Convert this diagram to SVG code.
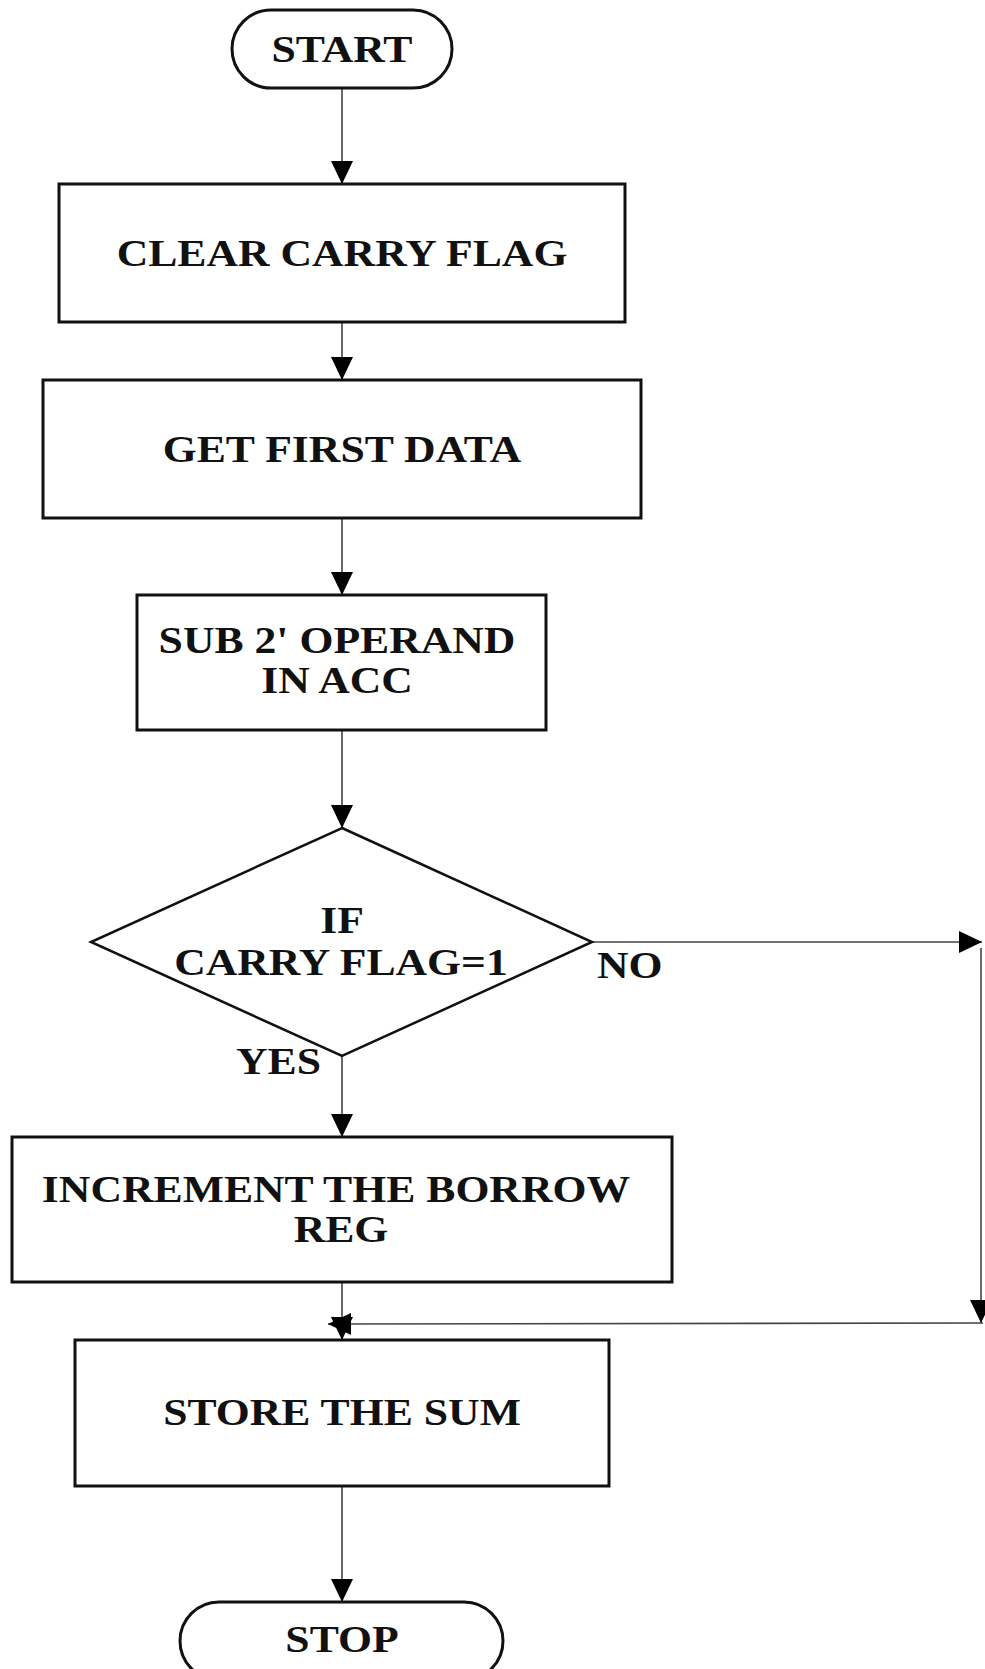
<svg xmlns="http://www.w3.org/2000/svg" width="985" height="1669" viewBox="0 0 985 1669">
  <style>
    .shape { fill: #fff; stroke: #111; stroke-width: 3; }
    .diamond { fill: #fff; stroke: #111; stroke-width: 2.5; }
    .link { fill: none; stroke: #444; stroke-width: 1.6; }
    .label { font-family: "Liberation Serif", "Times New Roman", serif; font-weight: bold; font-size: 38px; fill: #111; }
    .mid { text-anchor: middle; }
  </style>
  <defs>
    <marker id="arrow" markerWidth="24" markerHeight="22" refX="23" refY="11" orient="auto" markerUnits="userSpaceOnUse">
      <path d="M0,0 L23,11 L0,22 Z" fill="#000"/>
    </marker>
  </defs>
  <rect width="985" height="1669" fill="#fff"/>

  <!-- connectors -->
  <g id="connectors">
    <line class="link" x1="342" y1="88" x2="342" y2="184" marker-end="url(#arrow)"/>
    <line class="link" x1="342" y1="322" x2="342" y2="380" marker-end="url(#arrow)"/>
    <line class="link" x1="342" y1="518" x2="342" y2="595" marker-end="url(#arrow)"/>
    <line class="link" x1="342" y1="730" x2="342" y2="828" marker-end="url(#arrow)"/>
    <line class="link" x1="592" y1="942" x2="982" y2="942" marker-end="url(#arrow)"/>
    <line class="link" x1="981" y1="948" x2="981" y2="1323" marker-end="url(#arrow)"/>
    <line class="link" x1="983" y1="1323" x2="328" y2="1324" marker-end="url(#arrow)"/>
    <line class="link" x1="342" y1="1056" x2="342" y2="1137" marker-end="url(#arrow)"/>
    <line class="link" x1="342" y1="1282" x2="342" y2="1340" marker-end="url(#arrow)"/>
    <line class="link" x1="342" y1="1486" x2="342" y2="1602" marker-end="url(#arrow)"/>
  </g>

  <!-- labels are set slightly wide: scale(1.15,1) -->
  <g id="start">
    <rect class="shape" x="232" y="10" width="220" height="78" rx="39" ry="39"/>
    <text class="label mid" transform="translate(342,62) scale(1.15,1)">START</text>
  </g>

  <g id="clear-carry">
    <rect class="shape" x="59" y="184" width="566" height="138"/>
    <text class="label mid" transform="translate(342,266) scale(1.15,1)">CLEAR CARRY FLAG</text>
  </g>

  <g id="get-first">
    <rect class="shape" x="43" y="380" width="598" height="138"/>
    <text class="label mid" transform="translate(342,462) scale(1.15,1)">GET FIRST DATA</text>
  </g>

  <g id="sub-operand">
    <rect class="shape" x="137" y="595" width="409" height="135"/>
    <text class="label mid" transform="translate(337,653) scale(1.15,1)">SUB 2' OPERAND</text>
    <text class="label mid" transform="translate(337,693) scale(1.15,1)">IN ACC</text>
  </g>

  <g id="carry-check">
    <polygon class="diamond" points="342,828 592,942 342,1056 91,942"/>
    <text class="label mid" transform="translate(342,933) scale(1.15,1)">IF</text>
    <text class="label mid" transform="translate(341,975) scale(1.15,1)">CARRY FLAG=1</text>
    <text class="label" transform="translate(597,978) scale(1.15,1)">NO</text>
    <text class="label" transform="translate(236,1074) scale(1.15,1)">YES</text>
  </g>

  <g id="increment-borrow">
    <rect class="shape" x="12" y="1137" width="660" height="145"/>
    <text class="label mid" transform="translate(336,1202) scale(1.15,1)">INCREMENT THE BORROW</text>
    <text class="label mid" transform="translate(341,1242) scale(1.15,1)">REG</text>
  </g>

  <g id="store-sum">
    <rect class="shape" x="75" y="1340" width="534" height="146"/>
    <text class="label mid" transform="translate(342,1425) scale(1.15,1)">STORE THE SUM</text>
  </g>

  <g id="stop">
    <rect class="shape" x="180" y="1602" width="323" height="78" rx="39" ry="39"/>
    <text class="label mid" transform="translate(342,1652) scale(1.15,1)">STOP</text>
  </g>
</svg>
